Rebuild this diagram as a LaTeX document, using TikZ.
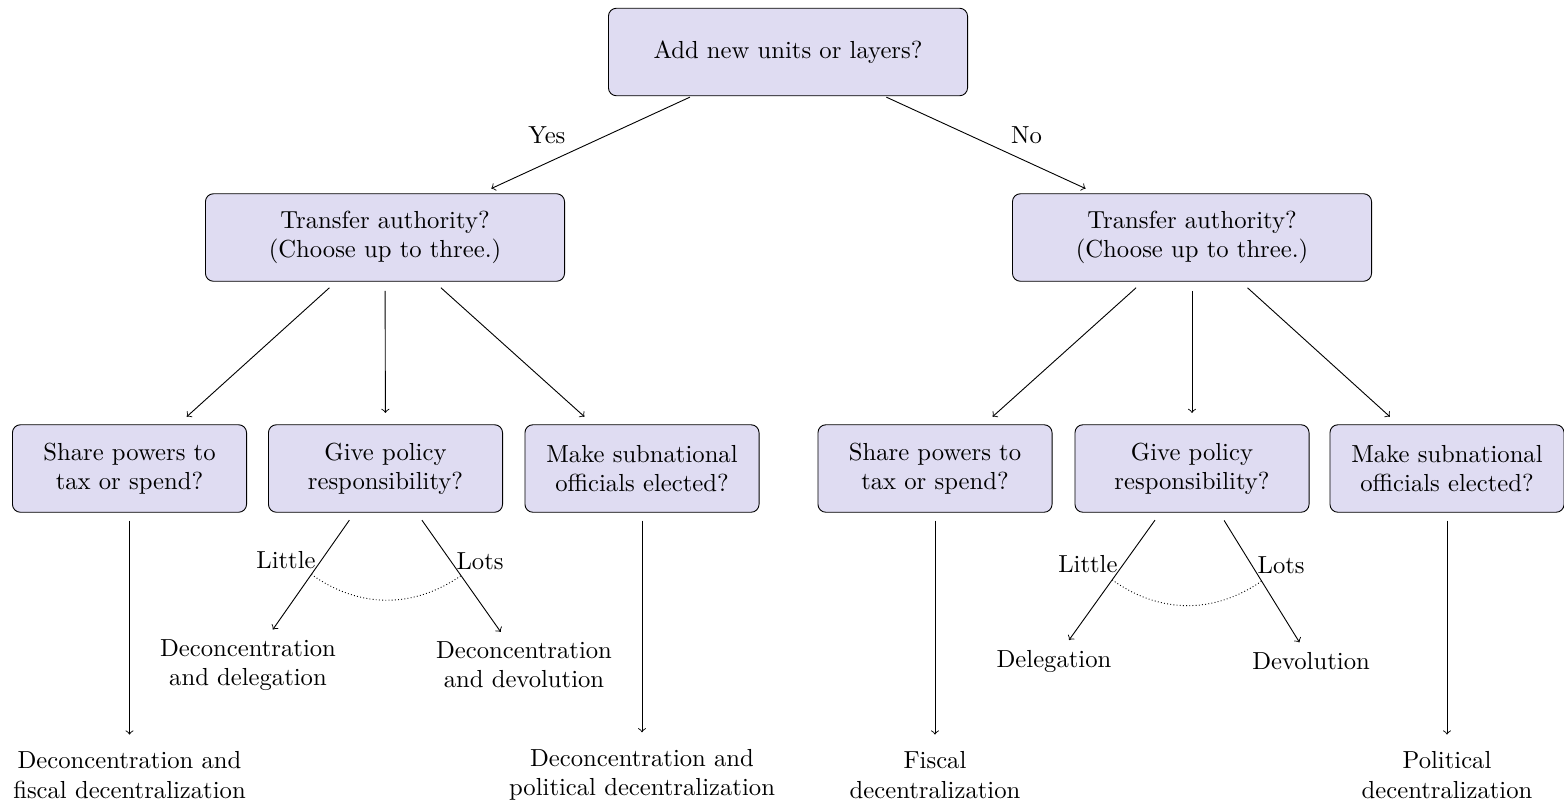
\documentclass[tikz,border=0pt]{standalone}
\usepackage{tikz}

\definecolor{boxfill}{RGB}{223,220,242}

\begin{document}
\begin{tikzpicture}[x=0.44pt, y=-0.44pt,
    font=\fontsize{10.85pt}{12.9pt}\selectfont,
    box/.style={draw, fill=boxfill, rounded corners=3.5pt, align=center, minimum height=38.5pt},
    bigbox/.style={box, minimum width=158pt},
    smallbox/.style={box, minimum width=103pt},
    outcome/.style={align=center},
    conn/.style={->, shorten <=4pt, shorten >=5pt}]
    \useasboundingbox (0,0) rectangle (1564,804);

    \node[bigbox] (add) at (788,52) {Add new units or layers?};

    \node[bigbox] (auth_yes) at (385,237.5) {Transfer authority?\\(Choose up to three.)};
    \node[bigbox] (auth_no) at (1192,237.5) {Transfer authority?\\(Choose up to three.)};

    \node[smallbox] (tax_yes) at (129.5,468.5) {Share powers to\\tax or spend?};
    \node[smallbox] (policy_yes) at (385.5,468.5) {Give policy\\responsibility?};
    \node[smallbox] (elect_yes) at (642,468.5) {Make subnational\\officials elected?};

    \node[smallbox] (tax_no) at (935,468.5) {Share powers to\\tax or spend?};
    \node[smallbox] (policy_no) at (1192,468.5) {Give policy\\responsibility?};
    \node[smallbox] (elect_no) at (1447,468.5) {Make subnational\\officials elected?};

    \node[outcome] (fiscal_yes) at (129.5,775) {Deconcentration and\\fiscal decentralization};
    \node[outcome] (deleg_yes) at (248,665) {Deconcentration\\and delegation};
    \node[outcome] (devol_yes) at (524,665) {Deconcentration\\and devolution};
    \node[outcome] (polit_yes) at (642,775) {Deconcentration and\\political decentralization};

    \node[outcome] (fiscal_no) at (935,775) {Fiscal\\decentralization};
    \node[outcome] (deleg_no) at (1054,661) {Delegation};
    \node[outcome] (devol_no) at (1311,661) {Devolution};
    \node[outcome] (polit_no) at (1447,775) {Political\\decentralization};

    \draw[conn, shorten <=1pt, shorten >=5pt] (add) -- node[pos=0.4, left=15pt] {Yes} (auth_yes);
    \draw[conn, shorten <=1pt, shorten >=5pt] (add) -- node[pos=0.4, right=15pt] {No} (auth_no);

    \draw[conn] (auth_yes) -- (tax_yes);
    \draw[conn] (auth_yes) -- (policy_yes);
    \draw[conn] (auth_yes) -- (elect_yes);
    \draw[conn] (auth_no) -- (tax_no);
    \draw[conn] (auth_no) -- (policy_no);
    \draw[conn] (auth_no) -- (elect_no);

    \draw[conn, shorten <=3.5pt, shorten >=4pt] (tax_yes) -- (fiscal_yes);
    \draw[conn, shorten <=3.5pt, shorten >=4pt] (elect_yes) -- (polit_yes);
    \draw[conn, shorten <=3.5pt, shorten >=4pt] (tax_no) -- (fiscal_no);
    \draw[conn, shorten <=3.5pt, shorten >=4pt] (elect_no) -- (polit_no);

    \draw[conn, shorten >=1pt] (policy_yes) -- node[pos=0.4, left=-1pt] {Little} coordinate[pos=0.52] (little_yes) (deleg_yes);
    \draw[conn, shorten >=1pt] (policy_yes) -- node[pos=0.4, right=-1pt] {Lots} coordinate[pos=0.52] (lots_yes) (devol_yes);
    \draw[conn, shorten >=1pt] (policy_no) -- node[pos=0.4, left=-1pt] {Little} coordinate[pos=0.52] (little_no) (deleg_no);
    \draw[conn, shorten >=1pt] (policy_no) -- node[pos=0.4, right=-1pt] {Lots} coordinate[pos=0.52] (lots_no) (devol_no);

    \draw[densely dotted] (little_yes) to[bend right=35] (lots_yes);
    \draw[densely dotted] (little_no) to[bend right=35] (lots_no);
\end{tikzpicture}
\end{document}
